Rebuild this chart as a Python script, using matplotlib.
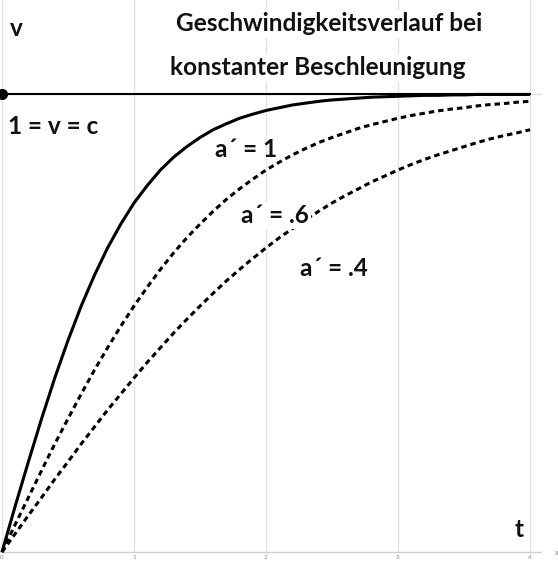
import matplotlib
matplotlib.use("Agg")
import matplotlib.pyplot as plt

# time values (t) at which the curves were read
t = [round(0.1 * i, 1) for i in range(41)]

# velocity readings (fraction of c) for each acceleration a'
v_a1 = [0.000, 0.100, 0.197, 0.291, 0.380, 0.462, 0.537, 0.604, 0.664, 0.716,
        0.762, 0.800, 0.834, 0.862, 0.885, 0.905, 0.922, 0.935, 0.947, 0.956,
        0.964, 0.970, 0.976, 0.980, 0.984, 0.987, 0.989, 0.991, 0.993, 0.994,
        0.995, 0.996, 0.997, 0.997, 0.998, 0.998, 0.999, 0.999, 0.999, 0.999,
        0.999]
v_a06 = [0.000, 0.060, 0.119, 0.178, 0.236, 0.291, 0.345, 0.397, 0.446, 0.493,
         0.537, 0.578, 0.617, 0.653, 0.686, 0.716, 0.744, 0.770, 0.793, 0.814,
         0.834, 0.851, 0.867, 0.881, 0.894, 0.905, 0.915, 0.925, 0.933, 0.940,
         0.947, 0.953, 0.958, 0.963, 0.967, 0.970, 0.974, 0.977, 0.979, 0.982,
         0.984]
v_a04 = [0.000, 0.040, 0.080, 0.119, 0.159, 0.197, 0.236, 0.273, 0.310, 0.345,
         0.380, 0.414, 0.446, 0.478, 0.508, 0.537, 0.565, 0.592, 0.617, 0.641,
         0.664, 0.686, 0.706, 0.726, 0.744, 0.762, 0.778, 0.793, 0.808, 0.821,
         0.834, 0.846, 0.857, 0.867, 0.876, 0.885, 0.894, 0.902, 0.909, 0.915,
         0.922]

x_ticks = [0, 1, 2, 3, 4]
x_tick_labels = ["0", "1", "2", "3", "4"]
c_level = 1.0

title_line1 = "Geschwindigkeitsverlauf bei"
title_line2 = "konstanter Beschleunigung"
labels = ["a\u00b4 = 1", "a\u00b4 = .6", "a\u00b4 = .4"]

FONT = ["Lato", "DejaVu Sans"]
plt.rcParams["font.family"] = FONT

fig = plt.figure(figsize=(5.58, 5.62), dpi=100)
ax = fig.add_axes([0, 0, 1, 1])
ax.set_xlim(-0.015, 4.212)
ax.set_ylim(-0.0218, 1.2052)
ax.axis("off")

grid_c = "#e4e4e4"
# vertical grid lines
for xt in x_ticks:
    ax.plot([xt, xt], [0, 1.2052], color=grid_c, lw=1.0, zorder=1)
# horizontal grid at v=1 and x axis
ax.plot([0, 4.08], [c_level, c_level], color=grid_c, lw=1.0, zorder=1)
ax.plot([-0.015, 4.08], [0, 0], color="#d0d0d0", lw=1.0, zorder=1)

# tick labels
for xt, lab in zip(x_ticks, x_tick_labels):
    ax.text(xt, -0.006, lab, ha="center", va="top", fontsize=4.5,
            color="#888888", zorder=2)
ax.text(4.2, 0.0, "x", ha="center", va="center", fontsize=5,
        color="#888888", zorder=2)

# c line and dot
ax.plot([0, 4.0], [c_level, c_level], color="black", lw=1.5, zorder=3)
ax.plot([0], [c_level], "o", color="black", markersize=7, zorder=4,
        clip_on=False)

# curves
ax.plot(t, v_a1, color="black", lw=2.2, zorder=5, solid_capstyle="butt")
ax.plot(t, v_a06, color="black", lw=2.2, zorder=5, linestyle=(0, (1.8, 1.3)))
ax.plot(t, v_a04, color="black", lw=2.2, zorder=5, linestyle=(0, (1.8, 1.3)))

txt_kw = dict(fontsize=17.6, fontweight="bold", color="#111111", zorder=6)
bb = dict(facecolor="white", edgecolor="none", pad=1.5)

ax.text(0.06, 1.143, "v", ha="left", va="center", bbox=bb, **txt_kw)
ax.text(1.32, 1.153, title_line1, ha="left", va="center", bbox=bb, **txt_kw)
ax.text(1.27, 1.057, title_line2, ha="left", va="center", bbox=bb, **txt_kw)
ax.text(0.045, 0.928, "1 = v = c", ha="left", va="center", bbox=bb, **txt_kw)
ax.text(1.615, 0.878, labels[0], ha="left", va="center", **txt_kw)
ax.text(1.81, 0.735, labels[1], ha="left", va="center", bbox=bb, **txt_kw)
ax.text(2.255, 0.62, labels[2], ha="left", va="center", bbox=bb, **txt_kw)
ax.text(3.88, 0.05, "t", ha="left", va="center", **txt_kw)

fig.savefig("out.png", dpi=100)
